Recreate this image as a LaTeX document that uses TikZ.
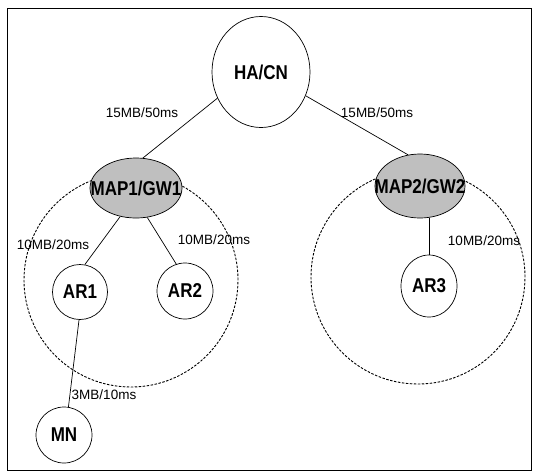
\documentclass[tikz,border=0pt]{standalone}
\usepackage{fontspec}
\setmainfont{Liberation Sans}
\newfontfamily\narrowfont[FakeStretch=0.85]{Liberation Sans}
\usetikzlibrary{shapes.geometric}

\begin{document}
\begin{tikzpicture}[x=1pt, y=-1pt, line width=0.7pt]

\tikzstyle{every node} = [inner sep=0pt, font=\narrowfont\bfseries\fontsize{20}{22}\selectfont]
\tikzstyle{host} = [ellipse, draw]
\tikzstyle{gate} = [ellipse, draw, fill=black!25]
\tikzstyle{cell} = [circle, draw, line width=0.9pt, dash pattern=on 2.5pt off 1.5pt, minimum size=214pt]
\tikzstyle{cost} = [font=\fontsize{13.5}{15}\selectfont]

\useasboundingbox (0,0) rectangle (533,475);
\draw[line width=0.8pt] (7,8) rectangle (531,470);

\node[cell] (c1) at (131,280) {};
\node[cell] (c2) at (418,277) {};

\node[host, minimum width=98pt, minimum height=111pt] (ha) at (261,72) {HA/CN};

\node[gate, minimum width=92pt, minimum height=60pt] (map1) at (136,188) {\makebox[0pt]{MAP1/GW1}};
\node[gate, minimum width=90pt, minimum height=64pt] (map2) at (420,186) {\makebox[0pt]{MAP2/GW2}};

\node[host, minimum size=55pt] (ar1) at (80,292) {AR1};
\node[host, minimum size=56pt] (ar2) at (185,291) {AR2};
\node[host, minimum width=56pt, minimum height=62pt] (ar3) at (429,286) {AR3};
\node[host, minimum size=56pt] (mn) at (64,435) {MN};

\node[cost] (q1) at (142,113) {15MB/50ms};
\node[cost] (q2) at (377,113) {15MB/50ms};
\node[cost] (q3) at (53,245) {10MB/20ms};
\node[cost] (q4) at (214,240) {10MB/20ms};
\node[cost] (q5) at (484,241) {10MB/20ms};
\node[cost] (q6) at (104,395) {3MB/10ms};

\draw (ha.211) -- (map1.77);
\draw (ha.332) -- (map2.111);

\draw (map1.241) -- (ar1.80);
\draw (map1.291) -- (ar2.108);
\draw (ar3.north) -- (ar3.north |- map2.south);

\draw (ar1.268) -- (mn.81);
\end{tikzpicture}
\end{document}
